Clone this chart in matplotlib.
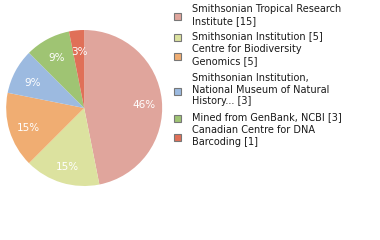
import matplotlib
matplotlib.use("Agg")
import matplotlib.pyplot as plt
from matplotlib.patches import Rectangle

labels = ["Smithsonian Tropical Research\nInstitute [15]",
          "Smithsonian Institution [5]",
          "Centre for Biodiversity\nGenomics [5]",
          "Smithsonian Institution,\nNational Museum of Natural\nHistory... [3]",
          "Mined from GenBank, NCBI [3]",
          "Canadian Centre for DNA\nBarcoding [1]"]
values = [15, 5, 5, 3, 3, 1]
colors = ["#e0a59c", "#dce29f", "#f0ad72", "#9cbae0", "#9fc473", "#e07058"]

fig = plt.figure(figsize=(3.8, 2.4), dpi=100)
ax = fig.add_axes([0.016, 0.225, 0.411, 0.65])
wedges, texts, autotexts = ax.pie(
    values, colors=colors, startangle=90, counterclock=False,
    autopct=lambda p: f"{int(p)}%", pctdistance=0.76,
    textprops=dict(color="white", fontsize=7.5, family="DejaVu Sans"),
    wedgeprops=dict(linewidth=0))
for t in autotexts:
    x, y = t.get_position()
    t.set_position((x + 0.01, y - 0.035))
ax.set_aspect("equal")
ax.set_xlim(-1, 1); ax.set_ylim(-1, 1)

W, H = 380, 240
tops = [4, 31, 44, 73, 112, 125]
line_h = 12.2
for lab, c, y in zip(labels, colors, tops):
    n = lab.count("\n") + 1
    yc = y + n * line_h / 2
    fig.patches.append(Rectangle((174 / W, 1 - (yc + 3.5) / H), 7 / W, 7 / H,
                                 transform=fig.transFigure, facecolor=c,
                                 edgecolor="#777777", linewidth=0.8))
    fig.text(192 / W, 1 - y / H, lab, fontsize=7, va="top", ha="left",
             color="#1a1a1a", linespacing=1.2)

fig.savefig("out.png", dpi=100)
